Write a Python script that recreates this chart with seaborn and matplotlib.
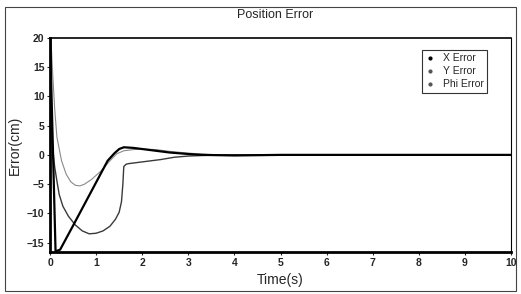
import matplotlib
matplotlib.use("Agg")
import matplotlib.pyplot as plt
from matplotlib.lines import Line2D
from matplotlib.patches import Rectangle
import pandas as pd
import seaborn as sns

# ---- data ----
t_x = [0, 0.05, 0.12, 0.22, 0.5, 0.75, 1.0, 1.25, 1.4, 1.5, 1.6, 1.7, 1.8, 2.0, 2.3, 2.6, 3.0, 3.3, 4.0, 5.0, 10.0]
x_err = [20, 5, -16.5, -16.2, -12.1, -8.4, -4.7, -1.0, 0.3, 1.0, 1.3, 1.25, 1.2, 1.0, 0.7, 0.4, 0.15, 0.0, -0.1, 0.0, 0.0]

t_y = [0.02, 0.05, 0.1, 0.15, 0.25, 0.35, 0.45, 0.55, 0.65, 0.75, 0.9, 1.1, 1.3, 1.45, 1.6, 1.8, 2.0, 2.3, 2.6, 3.0, 3.5, 4.0, 10.0]
y_err = [20, 15, 8, 3, -1, -3.3, -4.6, -5.2, -5.3, -5.0, -4.2, -2.8, -1.0, 0.2, 0.7, 0.9, 1.0, 0.9, 0.6, 0.3, 0.05, 0.0, 0.0]

t_phi = [0.02, 0.06, 0.1, 0.15, 0.2, 0.28, 0.4, 0.55, 0.7, 0.85, 1.0, 1.15, 1.3, 1.42, 1.5, 1.55, 1.58, 1.6, 1.65, 1.7, 2.0, 2.4, 2.7, 3.0, 3.5, 4.0, 10.0]
phi_err = [5, 1, -2, -4.5, -6.8, -8.8, -10.5, -12.0, -13.0, -13.5, -13.4, -13.0, -12.2, -11.0, -9.8, -8.0, -5.0, -2.0, -1.6, -1.5, -1.2, -0.8, -0.4, -0.2, -0.05, 0.0, 0.0]

series_names = ["X Error", "Y Error", "Phi Error"]
x_ticks = list(range(0, 11))
y_ticks = [-15, -10, -5, 0, 5, 10, 15, 20]

sns.set_style("ticks")
plt.rcParams['font.family'] = ['Liberation Sans', 'DejaVu Sans']

fig = plt.figure(figsize=(5.21, 2.94), dpi=100)
ax = fig.add_axes([0.096, 0.143, 0.885, 0.728])

df_x = pd.DataFrame({"t": t_x, "e": x_err})
df_y = pd.DataFrame({"t": t_y, "e": y_err})
df_p = pd.DataFrame({"t": t_phi, "e": phi_err})

sns.lineplot(data=df_y, x="t", y="e", ax=ax, color="#8a8a8a", lw=0.8, sort=False)
sns.lineplot(data=df_p, x="t", y="e", ax=ax, color="#3a3a3a", lw=1.0, sort=False)
sns.lineplot(data=df_x, x="t", y="e", ax=ax, color="black", lw=1.6, sort=False)

ax.set_xlim(0, 10)
ax.set_ylim(-16.6, 20)
ax.set_xticks(x_ticks)
ax.set_yticks(y_ticks)
ax.tick_params(labelsize=7.5, length=2, width=0.8, pad=2)
for lab in ax.get_xticklabels() + ax.get_yticklabels():
    lab.set_fontweight("bold")

for side in ["left", "bottom"]:
    ax.spines[side].set_linewidth(2.0)
ax.spines["top"].set_linewidth(1.2)
ax.spines["right"].set_linewidth(0.8)
for s in ax.spines.values():
    s.set_color("black")

ax.set_xlabel("Time(s)", fontsize=10, labelpad=4)
ax.set_ylabel("Error(cm)", fontsize=10, labelpad=4)
fig.text(0.528, 0.948, "Position Error", ha="center", va="center", fontsize=9)

handles = [Line2D([], [], ls="none", marker="o", ms=2, color=c) for c in ["black", "#555555", "#555555"]]
leg = ax.legend(handles, series_names, loc="upper right", bbox_to_anchor=(0.96, 0.97),
                fontsize=7.5, frameon=True, fancybox=False, handletextpad=0.7,
                borderpad=0.35, labelspacing=0.3, handlelength=1.0)
leg.get_frame().set_edgecolor("black")
leg.get_frame().set_linewidth(0.8)

# outer frame of the chart area
fig.add_artist(Rectangle((0.01, 0.01), 0.98, 0.965, transform=fig.transFigure,
                         fill=False, ec="#444444", lw=0.8))

fig.savefig("out.png", dpi=100)
